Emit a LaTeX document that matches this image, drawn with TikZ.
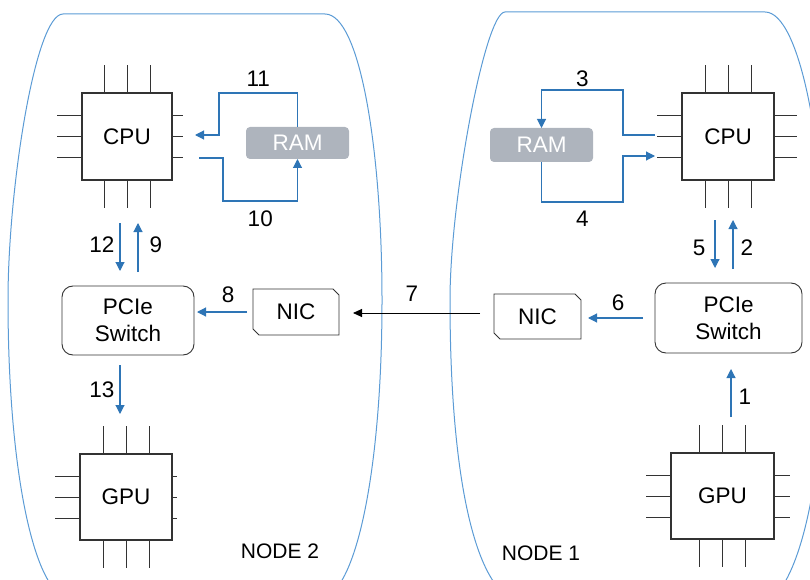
\documentclass[tikz,border=0pt]{standalone}
\usepackage{fontspec}
\setmainfont{Liberation Sans}
\usepackage{tikz}
\usetikzlibrary{arrows.meta, calc, shapes.misc}
\definecolor{flowblue}{HTML}{2E75B6}
\definecolor{edgeblue}{HTML}{5B9BD5}
\definecolor{ramgray}{HTML}{AEB4BD}
\definecolor{boxline}{HTML}{333333}
% pins round a chip node: #1 node name, #2 length of the right pins
\newcommand{\chippins}[2]{%
  \foreach \d in {-23,0,23} {
    \draw[pin] ($(#1.north)+(\d,0)$) -- ++(0,-28);
    \draw[pin] ($(#1.south)+(\d,0)$) -- ++(0,28);
  }
  \foreach \d in {-21,0,21} {
    \draw[pin] ($(#1.west)+(0,\d)$) -- ++(-25,0);
    \draw[pin] ($(#1.east)+(0,\d)$) -- ++(#2,0);
  }
}

\begin{document}
\begin{tikzpicture}[x=1pt, y=-1pt,
    font=\fontsize{22.5}{27}\selectfont,
    chip/.style={draw=boxline, line width=1.1pt, fill=white, minimum height=87pt,
                 outer sep=0pt, inner sep=0pt},
    pin/.style={draw=boxline, line width=0.9pt},
    ram/.style={fill=ramgray, rounded corners=4pt, text=white, minimum width=103pt,
                outer sep=0pt, inner sep=0pt},
    pcie/.style={draw=boxline, line width=0.9pt, rounded corners=11pt, align=center,
                 outer sep=0pt, inner sep=0pt},
    nic/.style={draw=boxline, line width=0.9pt, chamfered rectangle,
                chamfered rectangle corners={north east, south west},
                chamfered rectangle xsep=2.5pt, minimum width=86pt, minimum height=46pt,
                outer sep=0pt, inner sep=0pt},
    flow/.style={draw=flowblue, line width=1.1pt, -{Triangle[length=9pt, width=9pt]}},
    wire/.style={draw=black, line width=0.9pt, -{Triangle[length=9pt, width=8pt]}},
    num/.style={inner sep=2pt},
    outline/.style={draw=edgeblue, line width=1pt},
    tag/.style={font=\fontsize{21}{25}\selectfont},
  ]
  \useasboundingbox (0,0) rectangle (810,580);
  \clip (0,0) rectangle (810,580);

  % --- node outlines ---
  \draw[outline] (55,590) .. controls (28,560) and (8,450) .. (8,300)
    .. controls (8,190) and (35,14) .. (63,14) -- (325,14)
    .. controls (360,14) and (382,150) .. (382,300)
    .. controls (382,450) and (362,560) .. (335,590);
  \draw[outline] (500,590) .. controls (468,555) and (450,450) .. (450,300)
    .. controls (450,200) and (485,12) .. (505,12) -- (765,12)
    .. controls (800,12) and (826,150) .. (826,300)
    .. controls (826,450) and (808,550) .. (780,590);
  \node[tag] (lab2) at (280,551) {NODE 2};
  \node[tag] (lab1) at (541,553) {NODE 1};

  % --- NODE 2 ---
  \node[chip, minimum width=90pt] (cpuL) at (127,136.5) {CPU};
  \chippins{cpuL}{11}
  \node[chip, minimum width=92pt, minimum height=86pt] (gpuL) at (126,497) {GPU};
  \chippins{gpuL}{5}
  \node[ram, minimum height=32pt] (ramL) at (297.5,143) {RAM};
  \node[pcie, minimum width=132pt, minimum height=69pt] (pcieL) at (128,320.5) {PCIe\\Switch};
  \node[nic] (nicL) at (296,312) {NIC};

  % --- NODE 1 ---
  \node[chip, minimum width=92pt] (cpuR) at (728,136.5) {CPU};
  \chippins{cpuR}{23}
  \node[chip, minimum width=103pt, minimum height=86pt] (gpuR) at (722.5,496) {GPU};
  \chippins{gpuR}{16}
  \node[ram, minimum height=34pt] (ramR) at (541.5,145) {RAM};
  \node[pcie, minimum width=147pt, minimum height=70pt] (pcieR) at (728.5,318) {PCIe\\Switch};
  \node[nic, minimum width=87pt, minimum height=45pt] (nicR) at (537.5,316.5) {NIC};

  % pin ends where the memory paths meet the CPUs
  \coordinate (inL) at ($(cpuL.east)+(23,-1.5)$);
  \coordinate (outL) at ($(cpuL.east)+(27,21.5)$);
  \coordinate (outR) at ($(cpuR.west)+(-27,-1.5)$);
  \coordinate (inR) at ($(cpuR.west)+(-27,19.5)$);

  % --- steps 1-7 ---
  \draw[flow, shorten <=36pt, shorten >=16pt] ($(gpuR.north)+(8.5,0)$) -- ($(pcieR.south)+(2.5,0)$)
    node[num, pos=0.56, right=5pt] {1};
  \draw[flow, shorten <=14pt, shorten >=40pt] ($(pcieR.north)+(4.5,0)$) -- ($(cpuR.south)+(5,0)$)
    node[num, pos=0.34, right=5pt] {2};
  \draw[flow] (outR) -- ++(-32,0) -- ++(0,-45) -| node[num, pos=0.25, above=1pt] {3} (ramR.north);
  \draw[flow] (ramR.south) -- ++(0,40) -| node[num, pos=0.25, below=6pt] {4} ($(inR)+(-32,0)$) -- (inR);
  \draw[flow, shorten <=40pt, shorten >=15pt] ($(cpuR.south)+(-13,0)$) -- ($(pcieR.north)+(-13.5,0)$)
    node[num, pos=0.66, left=7pt] {5};
  \draw[flow, shorten <=12pt, shorten >=7pt] (pcieR.west) -- (pcieR.west -| nicR.east)
    node[num, pos=0.5, above=5pt] {6};
  \draw[wire, shorten <=14pt, shorten >=14pt] ($(nicR.west)+(0,-3.5)$) -- ($(nicR.west -| nicL.east)+(0,-3.5)$)
    node[num, pos=0.53, above=9pt] {7};

  % --- steps 8-13 ---
  \draw[flow, shorten <=6pt, shorten >=3pt] (nicL.west) -- (nicL.west -| pcieL.east)
    node[num, pos=0.42, above=7pt] {8};
  \draw[flow, shorten <=14pt, shorten >=43pt] ($(pcieL.north)+(10,0)$) -- ($(cpuL.south)+(11,0)$)
    node[num, pos=0.39, right=9pt] {9};
  \draw[flow] (outL) -- ++(24,0) -- ++(0,43) -| node[num, pos=0.25, below=7pt] {10} (ramL.south);
  \draw[flow] (ramL.north) -- ++(0,-34) -| node[num, pos=0.25, above=4pt] {11} ($(inL)+(24,0)$) -- (inL);
  \draw[flow, shorten <=43pt, shorten >=15pt] ($(cpuL.south)+(-7,0)$) -- ($(pcieL.north)+(-8,0)$)
    node[num, pos=0.61, left=3pt] {12};
  \draw[flow, shorten <=10pt, shorten >=40pt] ($(pcieL.south)+(-8,0)$) -- ($(gpuL.north)+(-6,0)$)
    node[num, pos=0.35, left=3pt] {13};

\end{tikzpicture}
\end{document}
